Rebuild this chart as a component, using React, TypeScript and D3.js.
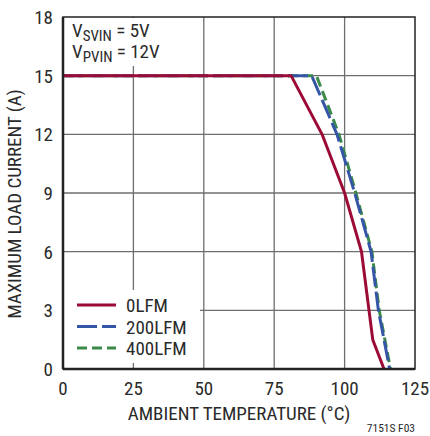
import React from "react";
import * as d3 from "d3";

const xTicks = [0, 25, 50, 75, 100, 125];
const yTicks = [0, 3, 6, 9, 12, 15, 18];

const temp0 = [0, 81, 92, 100, 106, 110, 114];
const load0 = [15, 15, 12, 9, 6, 1.5, 0];
const temp200 = [0, 88.3, 97.3, 103.6, 109.4, 112, 116];
const load200 = [15, 15, 12, 9, 6, 3, 0];
const temp400 = [0, 90, 98, 104, 109.7, 112.3, 116.3];
const load400 = [15, 15, 12, 9, 6, 3, 0];

const seriesNames = ["0LFM", "200LFM", "400LFM"];

const W = 430;
const H = 436;
const L = 63, R = 415, T = 17, B = 369;
const FONT = "'Liberation Sans Narrow', 'Arial Narrow', 'Roboto Condensed', 'Liberation Sans', sans-serif";
const TXT = "#2a2a2a";

export default function App() {
  const x = d3.scaleLinear().domain([0, 125]).range([L, R]);
  const y = d3.scaleLinear().domain([0, 18]).range([B, T]);
  const line = d3.line<[number, number]>().x(d => x(d[0])).y(d => y(d[1]));
  const zip = (a: number[], b: number[]) => a.map((v, i) => [v, b[i]] as [number, number]);

  const series = [
    { name: seriesNames[2], d: zip(temp400, load400), color: "#3b8a4a", dash: "10,5" },
    { name: seriesNames[1], d: zip(temp200, load200), color: "#3556a6", dash: "20,5" },
    { name: seriesNames[0], d: zip(temp0, load0), color: "#9c0b36", dash: "" },
  ];
  const legend = [series[2], series[1], series[0]];

  return (
    <div style={{ position: "absolute", left: 0, top: 0 }}>
      <svg width={W} height={H} style={{ display: "block", background: "#fff" }} fontFamily={FONT}>
        {xTicks.slice(1, -1).map(t => (
          <line key={"gx" + t} x1={x(t)} x2={x(t)} y1={T} y2={B} stroke="#6e6e6e" strokeWidth={1.3} />
        ))}
        {yTicks.slice(1, -1).map(t => (
          <line key={"gy" + t} x1={L} x2={R} y1={y(t)} y2={y(t)} stroke="#6e6e6e" strokeWidth={1.3} />
        ))}
        {/* annotation background */}
        <rect x={L + 1} y={T + 1} width={102} height={48} fill="#fff" />
        {/* legend background */}
        <rect x={L + 1} y={290} width={136} height={73} fill="#fff" />
        {series.map(s => (
          <path key={s.name} d={line(s.d) || ""} fill="none" stroke={s.color} strokeWidth={3}
            strokeDasharray={s.dash || undefined} strokeLinejoin="round" />
        ))}
        <rect x={L} y={T} width={R - L} height={B - T} fill="none" stroke="#222" strokeWidth={1.5} />
        <line x1={L} x2={R} y1={B} y2={B} stroke="#222" strokeWidth={2.5} />
        <line x1={L} x2={L} y1={T} y2={B} stroke="#222" strokeWidth={2.5} />
        {xTicks.map(t => (
          <text key={"xt" + t} x={x(t)} y={395} textAnchor="middle" fontSize={19} fill={TXT}>{t}</text>
        ))}
        {yTicks.map(t => (
          <text key={"yt" + t} x={53} y={y(t) + 7} textAnchor="end" fontSize={19} fill={TXT}>{t}</text>
        ))}
        <text x={(L + R) / 2 + 0} y={420} textAnchor="middle" fontSize={19} fill={TXT}>AMBIENT TEMPERATURE (°C)</text>
        <text transform={`translate(21,${204}) rotate(-90)`} textAnchor="middle" fontSize={19} fill={TXT}>MAXIMUM LOAD CURRENT (A)</text>
        <text x={415} y={432} textAnchor="end" fontSize={11.5} fill={TXT}>7151S F03</text>
        <text x={72} y={37} fontSize={19} fill={TXT}>V<tspan fontSize={15} dy={4}>SVIN</tspan><tspan dy={-4}> = 5V</tspan></text>
        <text x={72} y={58} fontSize={19} fill={TXT}>V<tspan fontSize={15} dy={4}>PVIN</tspan><tspan dy={-4}> = 12V</tspan></text>
        {legend.map((s, i) => (
          <g key={"lg" + s.name} transform={`translate(0,${305 + i * 21.5})`}>
            <line x1={77} x2={116} y1={0} y2={0} stroke={s.color} strokeWidth={3} strokeDasharray={s.dash || undefined} />
            <text x={126} y={7} fontSize={19} fill={TXT}>{s.name}</text>
          </g>
        ))}
      </svg>
    </div>
  );
}
